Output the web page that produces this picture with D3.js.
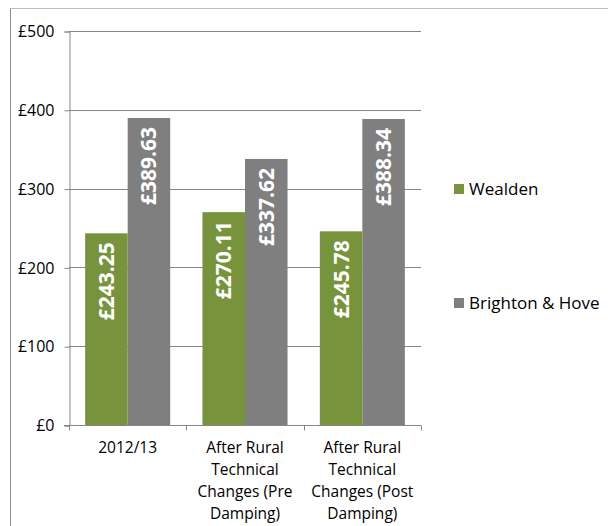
<!DOCTYPE html>
<html>
<head>
<meta charset="utf-8">
<script src="https://cdn.jsdelivr.net/npm/d3@7"></script>
<style>
  body { margin: 0; background: #fff; }
  text { font-family: "Open Sans", sans-serif; }
</style>
</head>
<body>
<div id="chart"></div>
<script>
// chart data
const categories = [
  ["2012/13"],
  ["After Rural", "Technical", "Changes (Pre", "Damping)"],
  ["After Rural", "Technical", "Changes (Post", "Damping)"]
];
const seriesNames = ["Wealden", "Brighton & Hove"];
const wealden = [243.25, 270.11, 245.78];
const brighton = [389.63, 337.62, 388.34];
const yTicks = [0, 100, 200, 300, 400, 500];

const colors = ["#77933C", "#7F7F7F"];
const W = 608, H = 526;

const svg = d3.select("#chart").append("svg")
  .attr("width", W)
  .attr("height", H);

// outer chart border
svg.append("line").attr("x1", 10.5).attr("x2", W).attr("y1", 8.5).attr("y2", 8.5)
  .attr("stroke", "#bfbfbf");
svg.append("line").attr("x1", 10.5).attr("x2", 10.5).attr("y1", 8.5).attr("y2", H)
  .attr("stroke", "#8c8c8c");

const plot = {left: 69, right: 421, top: 31, bottom: 425};

const y = d3.scaleLinear().domain([0, 500]).range([plot.bottom, plot.top]);
const x0 = d3.scaleBand().domain(d3.range(categories.length))
  .range([plot.left, plot.right]);
const gap = x0.bandwidth() * 0.275;
const x1 = d3.scaleBand().domain(d3.range(seriesNames.length))
  .range([gap / 2, x0.bandwidth() - gap / 2]);

// gridlines
svg.append("g").selectAll("line").data(yTicks.slice(1)).join("line")
  .attr("x1", plot.left).attr("x2", plot.right)
  .attr("y1", d => Math.round(y(d)) + 0.5).attr("y2", d => Math.round(y(d)) + 0.5)
  .attr("stroke", "#868686");

// y axis
const yAxis = svg.append("g")
  .attr("transform", `translate(${plot.left + 0.5},0.5)`)
  .call(d3.axisLeft(y).tickValues(yTicks).tickSize(5).tickPadding(10)
    .tickFormat(d => "£" + d));
yAxis.select(".domain").attr("stroke", "#868686");
yAxis.selectAll(".tick line").attr("stroke", "#868686");
yAxis.selectAll("text").attr("font-size", 16).attr("fill", "#000")
  .style("font-family", "'Open Sans', sans-serif");

// bars
const series = [wealden, brighton];
const groups = svg.append("g").selectAll("g").data(categories).join("g")
  .attr("transform", (d, i) => `translate(${x0(i)},0)`);

groups.selectAll("rect")
  .data((d, i) => series.map((s, j) => ({j: j, v: s[i]})))
  .join("rect")
  .attr("x", d => x1(d.j))
  .attr("y", d => y(d.v))
  .attr("width", x1.bandwidth())
  .attr("height", d => y(0) - y(d.v))
  .attr("fill", d => colors[d.j]);

// data labels (rotated, inside end)
groups.selectAll("text.lbl")
  .data((d, i) => series.map((s, j) => ({j: j, v: s[i]})))
  .join("text")
  .attr("class", "lbl")
  .attr("transform", d => `translate(${x1(d.j) + x1.bandwidth() / 2 + 7.5},${y(d.v) + 9}) rotate(-90)`)
  .attr("text-anchor", "end")
  .attr("fill", "#fff")
  .attr("font-size", 21)
  .attr("font-weight", "bold")
  .text(d => "£" + d.v.toFixed(2));

// x axis
const xAxis = svg.append("g")
  .attr("transform", `translate(0,${plot.bottom + 0.5})`);
xAxis.append("line")
  .attr("x1", plot.left - 5).attr("x2", plot.right)
  .attr("stroke", "#868686");
xAxis.selectAll("line.tk").data(d3.range(categories.length + 1)).join("line")
  .attr("class", "tk")
  .attr("x1", i => Math.round(plot.left + i * x0.bandwidth()) + 0.5)
  .attr("x2", i => Math.round(plot.left + i * x0.bandwidth()) + 0.5)
  .attr("y1", 0).attr("y2", 5)
  .attr("stroke", "#868686");

xAxis.selectAll("text").data(categories).join("text")
  .attr("x", (d, i) => x0(i) + x0.bandwidth() / 2)
  .attr("y", 27)
  .attr("text-anchor", "middle")
  .attr("font-size", 15.5)
  .attr("fill", "#000")
  .selectAll("tspan").data(d => d).join("tspan")
  .attr("x", function() { return this.parentNode.getAttribute("x"); })
  .attr("dy", (d, i) => i === 0 ? 0 : 22)
  .text(d => d);

// legend
const legend = svg.append("g").selectAll("g").data(seriesNames).join("g")
  .attr("transform", (d, i) => `translate(454,${184 + i * 114})`);
legend.append("rect")
  .attr("width", 10).attr("height", 10)
  .attr("fill", (d, i) => colors[i]);
legend.append("text")
  .attr("x", 15).attr("y", 5)
  .attr("dy", "0.35em")
  .attr("font-size", 17)
  .attr("fill", "#000")
  .text(d => d);
</script>
</body>
</html>
